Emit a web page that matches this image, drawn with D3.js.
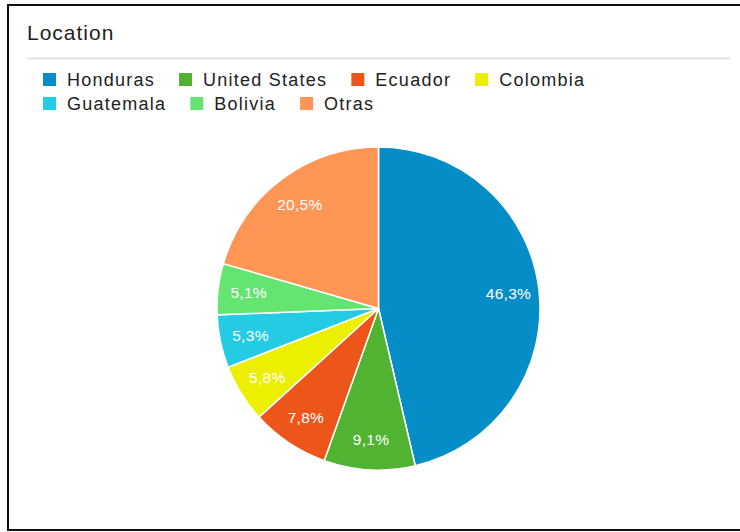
<!DOCTYPE html>
<html>
<head>
<meta charset="utf-8">
<style>
  body { margin: 0; background: #fff; }
  svg { display: block; font-family: "Liberation Sans", Arial, sans-serif; }
  .title { font-size: 21px; fill: #222; letter-spacing: 1px; }
  .legend text { font-size: 18px; fill: #222; letter-spacing: 1.25px; }
  .slice-label { font-size: 15.5px; fill: #fff; letter-spacing: 0.3px; }
</style>
</head>
<body>
<svg width="740" height="532"></svg>
<script src="https://cdn.jsdelivr.net/npm/d3@7"></script>
<script>
var categories = ["Honduras", "United States", "Ecuador", "Colombia", "Guatemala", "Bolivia", "Otras"];
var values = [46.3, 9.1, 7.8, 5.8, 5.3, 5.1, 20.5];
var colors = ["#058dc7", "#50b432", "#ed561b", "#edef00", "#24cbe5", "#64e572", "#ff9655"];

var width = 740, height = 532;
var cx = 378.5, cy = 308.5, radius = 161.5;

var svg = d3.select("svg");

// frame of the screenshot
svg.append("path")
  .attr("d", "M740,5 H8 V530 H740")
  .attr("fill", "none")
  .attr("stroke", "#111")
  .attr("stroke-width", 2);

svg.append("text")
  .attr("class", "title")
  .attr("x", 27)
  .attr("y", 40)
  .text("Location");

svg.append("line")
  .attr("x1", 27).attr("x2", 730)
  .attr("y1", 58.5).attr("y2", 58.5)
  .attr("stroke", "#e3e3e3")
  .attr("stroke-width", 2);

var data = categories.map(function(c, i) { return {name: c, value: values[i], color: colors[i]}; });

var color = d3.scaleOrdinal().domain(categories).range(colors);

// legend, wraps to a new row when it runs out of room
var legend = svg.append("g").attr("class", "legend");
var lx = 43, ly = 73, rowH = 24, maxX = 725;
data.forEach(function(d) {
  var item = legend.append("g");
  var t = item.append("text").attr("x", 24).attr("y", 12.5).text(d.name);
  var w = t.node().getComputedTextLength();
  if (lx + 24 + w > maxX) { lx = 43; ly += rowH; }
  item.attr("transform", "translate(" + lx + "," + ly + ")");
  item.append("rect")
    .attr("width", 13).attr("height", 13)
    .attr("fill", color(d.name));
  lx += 24 + w + 24;
});

var pie = d3.pie()
  .value(function(d) { return d.value; })
  .sort(null);

var arc = d3.arc().innerRadius(0).outerRadius(radius);
var labelArc = d3.arc().innerRadius(radius * 0.81).outerRadius(radius * 0.81);

var g = svg.append("g")
  .attr("transform", "translate(" + cx + "," + cy + ")");

g.selectAll("path")
  .data(pie(data))
  .enter().append("path")
  .attr("d", arc)
  .attr("fill", function(d) { return color(d.data.name); })
  .attr("stroke", "#fff")
  .attr("stroke-width", 1.5);

var fmt = function(v) { return d3.format(".1f")(v).replace(".", ",") + "%"; };

g.selectAll("text")
  .data(pie(data))
  .enter().append("text")
  .attr("class", "slice-label")
  .attr("transform", function(d) { return "translate(" + labelArc.centroid(d) + ")"; })
  .attr("text-anchor", "middle")
  .attr("dy", "0.36em")
  .text(function(d) { return fmt(d.data.value); });
</script>
</body>
</html>
